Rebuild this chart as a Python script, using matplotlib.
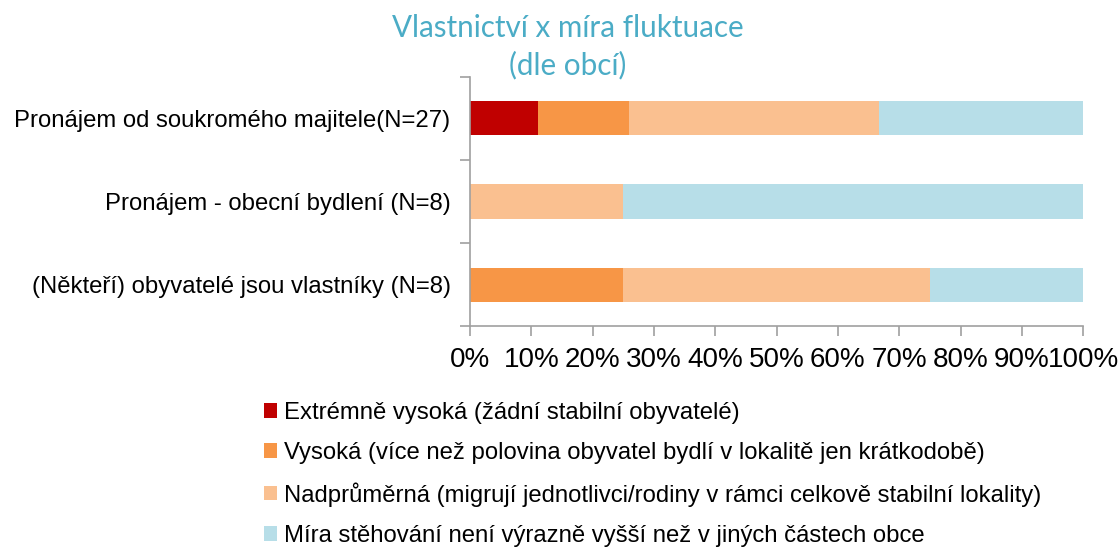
import numpy as np
import matplotlib.pyplot as plt
from matplotlib.patches import Patch

plt.rcParams['font.family'] = ['Liberation Sans', 'DejaVu Sans']

categories = ['(Někteří) obyvatelé jsou vlastníky (N=8)',
              'Pronájem - obecní bydlení (N=8)',
              'Pronájem od soukromého majitele(N=27)']
series = ['Extrémně vysoká (žádní stabilní obyvatelé)',
          'Vysoká (více než polovina obyvatel bydlí v lokalitě jen krátkodobě)',
          'Nadprůměrná (migrují jednotlivci/rodiny v rámci celkově stabilní lokality)',
          'Míra stěhování není výrazně vyšší než v jiných částech obce']
extremni = [0.0, 0.0, 3/27]
vysoka = [0.25, 0.0, 4/27]
nadprumerna = [0.50, 0.25, 11/27]
bez = [0.25, 0.75, 9/27]
colors = ['#C00000', '#F79646', '#FAC090', '#B7DEE8']

fig = plt.figure(figsize=(11.19, 5.49), dpi=100)
ax = fig.add_axes([0.42, 0.406, 0.548, 0.454])

y = np.arange(len(categories))
left = np.zeros(len(categories))
for vals, c in zip([extremni, vysoka, nadprumerna, bez], colors):
    ax.barh(y, vals, left=left, height=0.41, color=c, edgecolor='none')
    left += np.array(vals)

ax.set_xlim(0, 1)
ax.set_ylim(-0.5, 2.5)
ax.set_xticks(np.linspace(0, 1, 11))
ax.set_xticklabels([f'{i}%' for i in range(0, 101, 10)], fontsize=20)
ax.set_yticks([-0.5, 0.5, 1.5, 2.5])
ax.set_yticklabels([])
ax.set_yticks(y, minor=True)
ax.set_yticklabels(categories, minor=True, fontsize=17.2)
ax.tick_params(axis='y', which='minor', length=0, pad=14)
ax.tick_params(axis='y', which='major', length=7, color='#A0A0A0', width=1.2)
ax.tick_params(axis='x', length=7, color='#A0A0A0', width=1.2, pad=8)
for s in ['top', 'right']:
    ax.spines[s].set_visible(False)
for s in ['left', 'bottom']:
    ax.spines[s].set_color('#A0A0A0')
    ax.spines[s].set_linewidth(1.2)

fig.text(0.507, 0.915, 'Vlastnictví x míra fluktuace\n(dle obcí)', ha='center', va='center',
         fontsize=21.3, color='#4BACC6', family=['Lato', 'DejaVu Sans'], linespacing=1.38)

handles = [Patch(facecolor=c, edgecolor='none') for c in colors]
fig.legend(handles, series, loc='upper left', bbox_to_anchor=(0.236, 0.268), frameon=False,
           fontsize=17.2, handlelength=0.55, handleheight=0.55, handletextpad=0.3,
           labelspacing=0.76, borderpad=0, borderaxespad=0)

fig.savefig('out.png', dpi=100)
